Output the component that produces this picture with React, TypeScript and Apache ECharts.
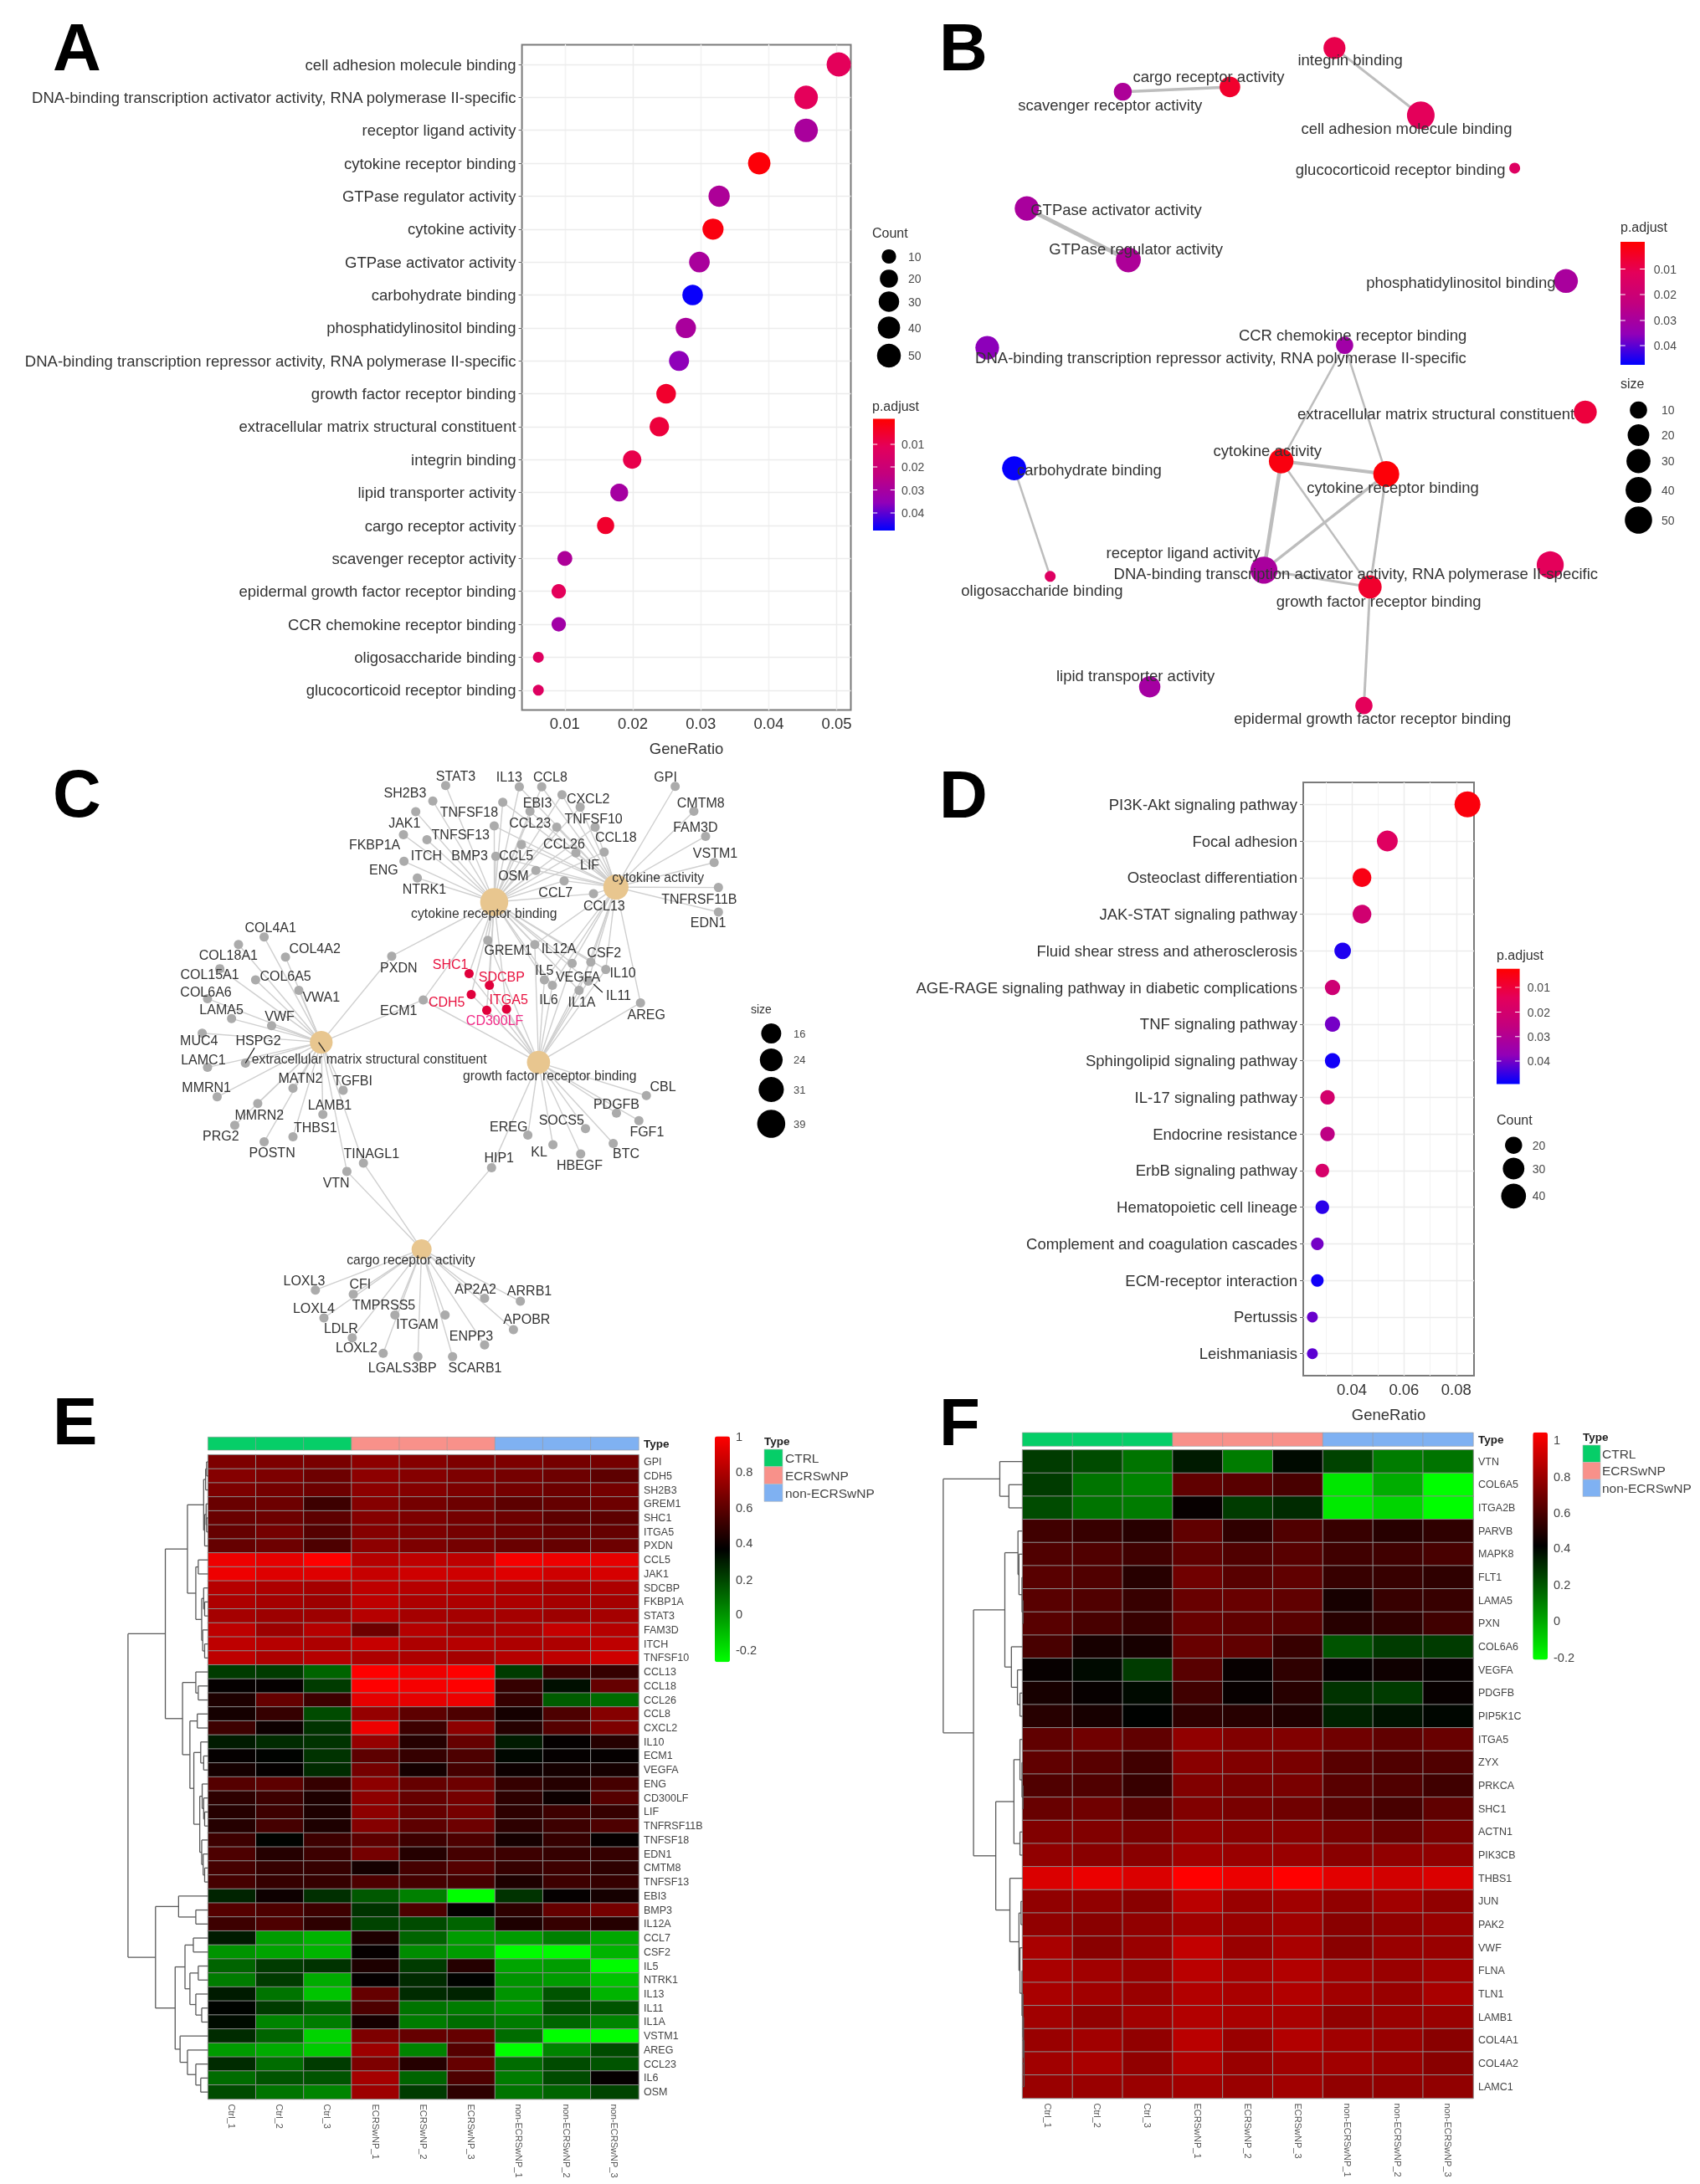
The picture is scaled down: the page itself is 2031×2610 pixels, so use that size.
import React, { useEffect, useRef } from "react";
import * as echarts from "echarts";

const FONT = "Liberation Sans";
const TXT = "#333333";

// ---------- Panel A ----------
const aTerms = ["cell adhesion molecule binding","DNA-binding transcription activator activity, RNA polymerase II-specific","receptor ligand activity","cytokine receptor binding","GTPase regulator activity","cytokine activity","GTPase activator activity","carbohydrate binding","phosphatidylinositol binding","DNA-binding transcription repressor activity, RNA polymerase II-specific","growth factor receptor binding","extracellular matrix structural constituent","integrin binding","lipid transporter activity","cargo receptor activity","scavenger receptor activity","epidermal growth factor receptor binding","CCR chemokine receptor binding","oligosaccharide binding","glucocorticoid receptor binding"];
const aRatio = [.0503,.0455,.0455,.0386,.0327,.0318,.0298,.0288,.0278,.0268,.0249,.0239,.0199,.018,.016,.01,.0091,.0091,.0061,.0061];
const aCount = [53,48,48,41,34,33,31,30,29,28,26,25,21,19,17,11,10,10,6,6];
const aP = [.012,.012,.03,.001,.029,.002,.03,.047,.03,.036,.006,.008,.01,.031,.006,.029,.012,.032,.014,.014];

// ---------- Panel B ----------
const bNames = ["cell adhesion molecule binding","integrin binding","cargo receptor activity","scavenger receptor activity","glucocorticoid receptor binding","GTPase activator activity","GTPase regulator activity","phosphatidylinositol binding","CCR chemokine receptor binding","DNA-binding transcription repressor activity, RNA polymerase II-specific","extracellular matrix structural constituent","cytokine activity","cytokine receptor binding","carbohydrate binding","receptor ligand activity","DNA-binding transcription activator activity, RNA polymerase II-specific","growth factor receptor binding","oligosaccharide binding","lipid transporter activity","epidermal growth factor receptor binding"];
const bNodeX = [1018,848,642,431,1203,242,442,1304,868,164,1342,743,950,217,709,1273,918,288,484,906];
const bNodeY = [240,100,181,191,350,434,541,585,719,724,858,960,987,975,1187,1176,1222,1200,1430,1469];
const bLabelX = [990,879,600,406,978,418,457,1097,884,624,1048,716,963,365,550,890,935,272,456,923];
const bLabelY = [268,125,159,219,352,436,518,588,698,745,862,939,1014,978,1150,1195,1252,1230,1406,1495];
const bCount = [53,21,17,11,6,31,34,29,10,28,25,33,41,30,48,48,26,6,19,10];
const bP = [.012,.01,.006,.029,.014,.03,.029,.03,.032,.036,.008,.002,.001,.047,.03,.012,.006,.014,.031,.012];
const bEdges = [[3,2,3.5],[1,0,3],[5,6,5],[8,11,2.5],[8,12,2.5],[11,12,4],[11,14,4.5],[12,14,3.5],[11,16,2.5],[12,16,3],[14,16,3],[16,19,3],[13,17,2.5]];

// ---------- Panel C ----------
const cHubs = ["cytokine receptor binding","cytokine activity","extracellular matrix structural constituent","growth factor receptor binding","cargo receptor activity"];
const cHubX = [769,997,445,852,633];
const cHubY = [378,342,715,763,1212];
const cHubLabelX = [750,1076,535,873,613];
const cHubLabelY = [405,318,755,795,1238];
const cHubCount = [39,31,24,25,16];
// name, node x, node y, label x, label y, linked hubs
const cGenes: [string, number, number, number, number, number[]][] = [
  ["STAT3",678,98,697,75,[0]],["IL13",816,101,797,78,[0,1]],["CCL8",858,101,874,77,[0,1]],["SH2B3",654,135,602,116,[0]],
  ["TNFSF18",785,138,722,162,[0,1]],["JAK1",622,161,601,187,[0]],["FKBP1A",599,216,545,241,[0]],["TNFSF13",769,195,706,217,[0,1]],
  ["ITCH",643,228,642,267,[0]],["ENG",600,280,562,300,[0]],["NTRK1",625,320,638,346,[0]],["BMP3",772,268,723,267,[0,1]],
  ["CCL5",820,240,810,266,[0,1]],["OSM",847,302,805,315,[0,1]],["EBI3",836,160,850,140,[0,1]],["CXCL2",896,120,945,129,[0,1]],
  ["CCL23",886,198,836,187,[0,1]],["TNFSF10",930,150,955,178,[0,1]],["CCL26",922,260,900,238,[0,1]],["CCL18",958,198,997,223,[0,1]],
  ["LIF",975,258,948,288,[0,1]],["CCL7",900,327,884,355,[0,1]],["CCL13",955,358,975,386,[0,1]],
  ["GPI",1108,100,1090,77,[1]],["CMTM8",1143,160,1156,140,[1]],["FAM3D",1165,220,1146,199,[1]],["VSTM1",1181,283,1183,260,[1]],["TNFRSF11B",1189,343,1153,370,[1]],["EDN1",1189,402,1170,428,[1]],
  ["GREM1",757,470,795,494,[0,3]],["IL12A",845,480,890,490,[0,1,3]],["CSF2",950,522,975,500,[0,1,3]],["IL5",863,565,863,542,[0,1,3]],["VEGFA",915,525,926,557,[0,1,3]],["IL10",978,540,1010,547,[0,1,3]],["IL6",878,578,871,613,[0,1,3]],["IL1A",928,590,933,618,[0,1,3]],["IL11",945,568,1002,602,[0,1,3]],["AREG",1043,620,1054,648,[1,3]],
  ["PXDN",577,508,590,535,[0,2]],["ECM1",636,613,590,638,[0,2,3]],
  ["COL4A1",338,462,350,440,[2]],["COL18A1",290,480,271,505,[2]],["COL4A2",378,510,433,489,[2]],["COL15A1",255,538,236,552,[2]],["COL6A5",322,565,378,556,[2]],["COL6A6",232,610,229,594,[2]],["VWA1",403,590,445,606,[2]],["LAMA5",277,658,258,636,[2]],["VWF",352,675,367,652,[2]],["MUC4",222,693,216,711,[2]],["HSPG2",303,765,327,711,[2]],["LAMC1",232,775,224,757,[2]],["MMRN1",250,846,230,823,[2]],["MATN2",392,825,406,801,[2]],["TGFBI",486,830,504,808,[2]],["MMRN2",326,862,329,890,[2]],["LAMB1",448,888,461,866,[2]],["PRG2",283,914,257,940,[2]],["THBS1",392,942,434,920,[2]],["POSTN",338,954,353,980,[2]],
  ["TINAGL1",524,1005,539,982,[2,4]],["VTN",493,1025,473,1052,[2,4]],["HIP1",764,1016,778,992,[3,4]],
  ["CBL",1054,843,1085,822,[3]],["PDGFB",998,885,998,863,[3]],["FGF1",1040,903,1055,930,[3]],["SOCS5",940,922,895,902,[3]],["EREG",832,938,796,917,[3]],["KL",879,961,853,977,[3]],["HBEGF",931,983,929,1010,[3]],["BTC",992,958,1016,982,[3]],
  ["LOXL3",434,1310,413,1287,[4]],["CFI",505,1320,518,1296,[4]],["LOXL4",450,1377,431,1354,[4]],["TMPRSS5",583,1370,562,1345,[4]],["LDLR",503,1425,482,1402,[4]],["ITGAM",677,1370,625,1392,[4]],["LOXL2",561,1462,511,1448,[4]],["LGALS3BP",626,1470,597,1497,[4]],["SCARB1",691,1470,733,1497,[4]],["ENPP3",751,1442,726,1420,[4]],["AP2A2",751,1330,734,1308,[4]],["ARRB1",818,1337,835,1312,[4]],["APOBR",805,1405,830,1381,[4]],
];
const cRedGenes: [string, number, number, number, number, number[]][] = [
  ["SHC1",722,550,687,527,[0,3]],["SDCBP",760,578,783,558,[0,3]],["CDH5",726,600,680,618,[0,3]],["ITGA5",792,635,796,613,[0,3]],["CD300LF",755,638,770,662,[0,3]],
];
const cRepelSegs = [[320,728,303,765],[440,715,452,737],[955,575,972,595]];
const cSizeLegend = [16,24,31,39];

// ---------- Panel D ----------
const dTerms = ["PI3K-Akt signaling pathway","Focal adhesion","Osteoclast differentiation","JAK-STAT signaling pathway","Fluid shear stress and atherosclerosis","AGE-RAGE signaling pathway in diabetic complications","TNF signaling pathway","Sphingolipid signaling pathway","IL-17 signaling pathway","Endocrine resistance","ErbB signaling pathway","Hematopoietic cell lineage","Complement and coagulation cascades","ECM-receptor interaction","Pertussis","Leishmaniasis"];
const dRatio = [.0843,.0536,.0439,.0439,.0365,.0326,.0326,.0326,.0307,.0307,.0287,.0287,.0268,.0268,.0249,.0249];
const dCount = [44,28,23,23,19,17,17,17,16,16,15,15,14,14,13,13];
const dP = [.004,.016,.005,.021,.047,.022,.04,.048,.02,.027,.019,.046,.04,.048,.041,.042];

// ---------- Heatmaps ----------
const samples = ["Ctrl_1","Ctrl_2","Ctrl_3","ECRSwNP_1","ECRSwNP_2","ECRSwNP_3","non-ECRSwNP_1","non-ECRSwNP_2","non-ECRSwNP_3"];
const groups = ["CTRL","ECRSwNP","non-ECRSwNP"];
const groupOfSample = [0,0,0,1,1,1,2,2,2];
const groupColors = ["#06CE68","#F8918A","#7FB1F2"];
const heatTicks = ["1","0.8","0.6","0.4","0.2","0","-0.2"];

const eGenes = ["GPI","CDH5","SH2B3","GREM1","SHC1","ITGA5","PXDN","CCL5","JAK1","SDCBP","FKBP1A","STAT3","FAM3D","ITCH","TNFSF10","CCL13","CCL18","CCL26","CCL8","CXCL2","IL10","ECM1","VEGFA","ENG","CD300LF","LIF","TNFRSF11B","TNFSF18","EDN1","CMTM8","TNFSF13","EBI3","BMP3","IL12A","CCL7","CSF2","IL5","NTRK1","IL13","IL11","IL1A","VSTM1","AREG","CCL23","IL6","OSM"];
const eValues = [
[.68,.68,.67,.72,.70,.68,.68,.66,.66],[.70,.68,.64,.72,.70,.68,.66,.64,.60],[.68,.66,.64,.72,.70,.68,.66,.64,.66],[.63,.64,.52,.70,.66,.64,.60,.62,.64],[.63,.64,.60,.70,.68,.66,.64,.60,.60],[.62,.66,.58,.70,.68,.66,.64,.62,.62],[.62,.64,.56,.72,.68,.66,.63,.62,.64],
[.96,.94,1,.82,.84,.84,.98,.96,.94],[.96,.92,.92,.86,.88,.88,.92,.88,.90],[.82,.80,.78,.84,.82,.82,.80,.78,.80],[.80,.78,.76,.84,.80,.80,.80,.78,.78],[.78,.76,.76,.82,.78,.78,.78,.76,.78],[.84,.76,.82,.64,.82,.78,.80,.86,.82],[.84,.82,.80,.86,.80,.82,.80,.80,.84],[.84,.80,.82,.80,.80,.78,.82,.84,.88],
[.22,.22,.12,1,.96,1,.22,.52,.50],[.38,.38,.22,1,.98,1,.50,.33,.62],[.44,.62,.52,.94,.94,.96,.50,.14,.10],[.42,.50,.18,.74,.60,.56,.42,.56,.70],[.52,.40,.24,.96,.52,.72,.46,.58,.68],[.30,.26,.24,.74,.46,.62,.30,.38,.46],[.38,.36,.24,.60,.50,.56,.35,.38,.38],[.42,.38,.26,.66,.42,.54,.40,.42,.42],[.58,.60,.50,.72,.62,.64,.50,.46,.54],[.48,.52,.44,.72,.62,.66,.48,.40,.58],[.46,.52,.44,.72,.62,.66,.48,.52,.50],[.46,.54,.44,.70,.60,.64,.48,.52,.56],[.52,.36,.52,.60,.52,.56,.42,.50,.38],[.56,.46,.52,.66,.46,.54,.52,.50,.50],[.54,.50,.50,.42,.54,.58,.50,.52,.48],[.54,.50,.50,.56,.54,.54,.44,.52,.50],
[.28,.40,.25,.15,.05,-.27,.24,.38,.42],[.58,.56,.52,.24,.56,.38,.48,.62,.66],[.52,.56,.48,.20,.18,.12,.44,.50,.46],[.30,-.02,-.08,.44,.12,-.02,-.02,.05,-.05],[0,-.04,-.08,.38,.02,-.02,-.26,-.26,-.08],[.12,.22,.24,.44,.22,.46,-.04,-.02,-.26],[.06,.22,-.06,.38,.26,.36,0,-.02,-.12],[.30,.08,-.12,.62,.26,.28,0,.16,-.08],[.36,.22,.14,.56,.08,.06,0,.18,.16],[.34,.04,.06,.42,.06,.10,.06,.12,.04],[.26,.12,-.16,.68,.62,.62,.10,-.27,-.27],[-.02,-.06,-.14,.76,.04,.58,-.27,.04,.18],[.26,.10,.22,.68,.46,.62,.10,.18,.16],[.10,.16,.16,.78,.12,.56,.06,.18,.38],[.18,.08,.04,.76,.22,.48,.08,.12,.20],
];
const fGenes = ["VTN","COL6A5","ITGA2B","PARVB","MAPK8","FLT1","LAMA5","PXN","COL6A6","VEGFA","PDGFB","PIP5K1C","ITGA5","ZYX","PRKCA","SHC1","ACTN1","PIK3CB","THBS1","JUN","PAK2","VWF","FLNA","TLN1","LAMB1","COL4A1","COL4A2","LAMC1"];
const fValues = [
[.27,.23,.13,.35,.11,.39,.25,.11,.13],[.27,.13,.09,.65,.63,.59,-.15,-.01,-.21],[.23,.13,.11,.43,.27,.31,-.16,-.11,-.21],[.57,.55,.51,.65,.53,.61,.55,.51,.53],[.61,.61,.57,.65,.61,.63,.57,.57,.59],[.63,.61,.51,.69,.63,.65,.55,.55,.53],[.63,.61,.55,.67,.67,.65,.47,.55,.55],[.63,.59,.55,.67,.65,.63,.51,.53,.57],[.59,.47,.47,.67,.65,.55,.21,.27,.27],[.43,.39,.27,.63,.43,.53,.43,.45,.43],[.47,.43,.39,.57,.43,.51,.29,.27,.43],[.51,.47,.41,.53,.51,.49,.33,.37,.40],
[.65,.69,.65,.77,.73,.73,.69,.65,.67],[.65,.63,.57,.75,.73,.71,.63,.61,.61],[.61,.61,.55,.73,.71,.71,.63,.61,.57],[.67,.69,.63,.73,.71,.69,.63,.59,.65],[.73,.73,.71,.77,.75,.75,.71,.67,.71],[.77,.75,.75,.81,.79,.79,.75,.77,.77],[.95,.99,.95,1.04,.99,1.04,.97,.93,.95],[.77,.77,.75,.87,.79,.81,.77,.81,.77],[.77,.75,.77,.81,.79,.81,.75,.77,.79],[.83,.75,.79,.89,.79,.83,.75,.79,.79],[.83,.81,.79,.87,.83,.85,.81,.79,.81],[.83,.81,.79,.85,.83,.85,.81,.79,.83],[.81,.77,.81,.85,.83,.83,.77,.79,.79],[.79,.81,.77,.87,.79,.85,.81,.79,.75],[.81,.83,.77,.85,.79,.81,.81,.79,.75],[.79,.79,.79,.81,.79,.81,.77,.77,.77],
];
type Tree = number | [number, Tree, Tree];
const eTree: Tree = [22,
  [98,
    [143,
      [176,[180,[182,0,1],2],[178,[181,3,[182,4,5]],6]],
      [160,[165,7,8],[172,[176,9,[178,10,11]],[174,12,[178,13,14]]]]],
    [133,
      [160,15,[165,16,17]],
      [148,[163,18,19],[156,[170,20,[176,21,22]],[168,[173,23,[176,24,[178,25,26]]],[172,27,[175,28,[178,29,30]]]]]]]],
  [78,
    [125,31,[160,32,33]],
    [118,
      [138,[155,34,35],[148,[165,36,37],[160,38,[172,39,40]]]],
      [128,41,[143,42,[160,43,[170,44,45]]]]]]];
const fTree: Tree = [28,
  [140,0,[158,1,2]],
  [88,
    [150,[176,3,[178,4,[184,5,[186,6,7]]]],[163,8,[175,9,[180,10,11]]]],
    [132,
      [168,[180,12,[184,13,[186,14,15]]],[180,16,17]],
      [160,18,[178,[182,19,20],[180,21,[184,22,[186,23,[187,24,[188,25,[188,26,27]]]]]]]]]]];

// ---------- helpers ----------
const stops = [[255,0,0],[228,0,90],[194,0,127],[146,0,184],[0,0,255]];
const rgb = (c: number[]) => `rgb(${c.map(Math.round).join(",")})`;
function pColor(p: number, pMin: number, pMax: number) {
  const t = Math.max(0, Math.min(1, (p - pMin) / (pMax - pMin))) * (stops.length - 1);
  const i = Math.min(stops.length - 2, Math.floor(t));
  const f = t - i;
  return rgb(stops[i].map((v, k) => v + (stops[i + 1][k] - v) * f));
}
function dia(c: number, cMin: number, cMax: number, dMin: number, dMax: number, pow = 0.7) {
  const t = Math.max(0, Math.min(1, (Math.sqrt(c) - Math.sqrt(cMin)) / (Math.sqrt(cMax) - Math.sqrt(cMin))));
  return dMin + (dMax - dMin) * Math.pow(t, pow);
}
function flatten(node: Tree, leafX: number, out: number[][]): { x: number; y: number } {
  if (typeof node === "number") return { x: leafX, y: node };
  const a = flatten(node[1], leafX, out);
  const b = flatten(node[2], leafX, out);
  const h = node[0];
  out.push([h, a.y, h, b.y], [h, a.y, a.x, a.y], [h, b.y, b.x, b.y]);
  return { x: h, y: (a.y + b.y) / 2 };
}

function buildOption() {
  const grid: any[] = [], xAxis: any[] = [], yAxis: any[] = [], series: any[] = [], g: any[] = [], visualMap: any[] = [];

  const text = (t: string, x: number, y: number, size: number, o: any = {}) => g.push({
    type: "text", z: 50, silent: true,
    style: { text: t, x, y, font: `${o.bold ? "bold " : ""}${size}px "${FONT}"`, fill: o.fill || TXT,
      align: o.align || "left", textAlign: o.align || "left", verticalAlign: "middle", textVerticalAlign: "middle" },
  });
  const dot = (x: number, y: number, d: number) => g.push({ type: "circle", z: 50, silent: true, shape: { cx: x, cy: y, r: d / 2 }, style: { fill: "#000" } });

  const pBar = (x: number, y0: number, y1: number, w: number, tickY: number[], lx: number) => {
    g.push({ type: "rect", z: 50, silent: true, shape: { x, y: y0, width: w, height: y1 - y0 },
      style: { fill: new echarts.graphic.LinearGradient(0, 0, 0, 1, stops.map((c, i) => ({ offset: i / (stops.length - 1), color: rgb(c) }))) } });
    ["0.01","0.02","0.03","0.04"].forEach((s, i) => {
      g.push({ type: "line", z: 51, silent: true, shape: { x1: x, x2: x + w / 5, y1: tickY[i], y2: tickY[i] }, style: { stroke: "#fff", lineWidth: 1 } });
      g.push({ type: "line", z: 51, silent: true, shape: { x1: x + w * 0.8, x2: x + w, y1: tickY[i], y2: tickY[i] }, style: { stroke: "#fff", lineWidth: 1 } });
      text(s, lx, tickY[i], 14, { fill: "#4a4a4a" });
    });
  };

  const dotPanel = (left: number, top: number, w: number, h: number, xMin: number, xMax: number, xTicks: number[], xMinor: number[], terms: string[], ratio: number[], counts: number[], ps: number[], cMin: number, cMax: number, dMin: number, dMax: number, pMin: number, pMax: number) => {
    const i = grid.length;
    grid.push({ left, top, width: w, height: h, show: true, borderColor: "#7a7a7a", borderWidth: 2, backgroundColor: "#fff" });
    const rows = terms.map((_, k) => k);
    xAxis.push({
      type: "value", gridIndex: i, min: xMin, max: xMax, name: "GeneRatio", nameLocation: "middle", nameGap: 37,
      nameTextStyle: { fontFamily: FONT, fontSize: 18.5, color: TXT },
      axisLine: { show: false }, axisTick: { show: true, length: 4, lineStyle: { color: "#666" }, customValues: xTicks },
      axisLabel: { customValues: xTicks, margin: 7, fontFamily: FONT, fontSize: 18.5, color: TXT, formatter: (v: number) => v.toFixed(2), showMinLabel: true, showMaxLabel: true },
      splitLine: { show: false },
    });
    yAxis.push({
      type: "value", gridIndex: i, inverse: true, min: -0.6, max: terms.length - 0.4,
      axisLine: { show: false }, axisTick: { show: true, length: 4, lineStyle: { color: "#666" }, customValues: rows },
      axisLabel: { customValues: rows, margin: 7, fontFamily: FONT, fontSize: 18.5, color: TXT, formatter: (v: number) => terms[v] ?? "" },
      splitLine: { show: false },
    });
    series.push({
      type: "scatter", xAxisIndex: i, yAxisIndex: i, clip: true, z: 5, silent: true,
      data: terms.map((_, k) => ({ value: [ratio[k], k, counts[k]], itemStyle: { color: pColor(ps[k], pMin, pMax), opacity: 1 } })),
      symbolSize: (v: number[]) => dia(v[2], cMin, cMax, dMin, dMax),
      markLine: {
        silent: true, symbol: "none", animation: false, label: { show: false }, z: 1,
        data: [
          ...xTicks.map((v) => ({ xAxis: v, lineStyle: { color: "#ececec", width: 1.4, type: "solid" } })),
          ...xMinor.map((v) => ({ xAxis: v, lineStyle: { color: "#f3f3f3", width: 1, type: "solid" } })),
          ...rows.map((v) => ({ yAxis: v, lineStyle: { color: "#ececec", width: 1.4, type: "solid" } })),
        ],
      },
    });
  };

  const hiddenPanel = (left: number, top: number, w: number, h: number, xr: number[], yr: number[]) => {
    const i = grid.length;
    grid.push({ left, top, width: w, height: h, show: false });
    xAxis.push({ type: "value", gridIndex: i, show: false, min: xr[0], max: xr[1], splitLine: { show: false } });
    yAxis.push({ type: "value", gridIndex: i, show: false, inverse: true, min: yr[0], max: yr[1], splitLine: { show: false } });
    return i;
  };

  const labelSeries = (i: number, names: string[], xs: number[], ys: number[], size: number, colors?: string[]) => series.push({
    type: "scatter", xAxisIndex: i, yAxisIndex: i, clip: false, z: 20, silent: true, symbolSize: 1, itemStyle: { color: "rgba(0,0,0,0)", opacity: 1 },
    data: names.map((n, k) => ({ value: [xs[k], ys[k]], name: n, label: { color: colors ? colors[k] : TXT, textBorderWidth: 0, textBorderColor: "transparent" } })),
    label: { show: true, position: "inside", formatter: (p: any) => p.name, fontFamily: FONT, fontSize: size, color: TXT, align: "center", verticalAlign: "middle", textBorderWidth: 0, textBorderColor: "transparent" },
    labelLayout: { hideOverlap: false },
  });

  // ---- A
  dotPanel(623.6, 53.4, 392.9, 795, 0.00369, 0.05208, [.01,.02,.03,.04,.05], [.005,.015,.025,.035,.045], aTerms, aRatio, aCount, aP, 6, 53, 13, 29, 0, .0477);
  text("Count", 1042, 278, 16, {});
  [10,20,30,40,50].forEach((c, k) => {
    const y = [306.5,333,360.5,391.5,425][k];
    dot(1062, y, dia(c, 6, 53, 13, 29));
    text(String(c), 1085, y, 14, { fill: "#4a4a4a" });
  });
  text("p.adjust", 1042, 485, 16, {});
  pBar(1043, 500.6, 634, 26, [531,558,585.5,613], 1077);

  // ---- B
  const iB = hiddenPanel(1080, 0, 951, 900, [0,1568], [0,1568]);
  series.push({
    type: "graph", coordinateSystem: "cartesian2d", xAxisIndex: iB, yAxisIndex: iB, layout: "none", z: 10, silent: true,
    data: bNames.map((n, k) => ({ name: n, value: [bNodeX[k], bNodeY[k]], symbolSize: dia(bCount[k], 6, 53, 13, 33, 0.5), itemStyle: { color: pColor(bP[k], 0, .0475) } })),
    edges: bEdges.map(([s, t, w]) => ({ source: s, target: t, lineStyle: { width: w, color: "#bdbdbd", opacity: 1, curveness: 0 } })),
    label: { show: false },
  });
  labelSeries(iB, bNames, bLabelX, bLabelY, 18.5);
  text("p.adjust", 1936, 271, 16, {});
  pBar(1936, 289, 436, 29, [321.5,352,383,413], 1975.7);
  text("size", 1936, 458, 16, {});
  [10,20,30,40,50].forEach((c, k) => {
    const y = [490,520,551,585.5,621.5][k];
    dot(1957.5, y, dia(c, 6, 53, 13, 33, 0.5));
    text(String(c), 1985, y, 14, { fill: "#4a4a4a" });
  });

  // ---- C
  const iC = hiddenPanel(100, 890, 1000, 780, [0,1568], [0,1568]);
  const all = [...cGenes, ...cRedGenes];
  const hubD = (c: number) => 24 + (c - 16) / 23 * 9.5;
  const cNodes: any[] = [
    ...cHubs.map((n, k) => ({ name: n, value: [cHubX[k], cHubY[k]], symbolSize: hubD(cHubCount[k]), itemStyle: { color: "#E8C68F" } })),
    ...cGenes.map((r) => ({ name: r[0], value: [r[1], r[2]], symbolSize: 11, itemStyle: { color: "#ababab" } })),
    ...cRedGenes.map((r) => ({ name: r[0], value: [r[1], r[2]], symbolSize: 11, itemStyle: { color: "#E0003C" } })),
  ];
  const cLinks: any[] = [];
  all.forEach((r, k) => r[5].forEach((h) => cLinks.push({ source: k + cHubs.length, target: h, lineStyle: { width: 1.4, color: "#cfcfcf", opacity: 1 } })));
  series.push({ type: "graph", coordinateSystem: "cartesian2d", xAxisIndex: iC, yAxisIndex: iC, layout: "none", z: 10, silent: true, data: cNodes, edges: cLinks, label: { show: false } });
  series.push({
    type: "custom", xAxisIndex: iC, yAxisIndex: iC, z: 15, silent: true, data: cRepelSegs, encode: { x: [0, 2], y: [1, 3] },
    renderItem: (_p: any, api: any) => {
      const a = api.coord([api.value(0), api.value(1)]), b = api.coord([api.value(2), api.value(3)]);
      return { type: "line", shape: { x1: a[0], y1: a[1], x2: b[0], y2: b[1] }, style: { stroke: "#222", lineWidth: 1.2 } };
    },
  });
  labelSeries(iC, all.map((r) => r[0]), all.map((r) => r[3]), all.map((r) => r[4]), 16,
    all.map((r) => (cRedGenes.includes(r as any) ? (r[0] === "CD300LF" ? "#F02A86" : "#E8123F") : TXT)));
  labelSeries(iC, cHubs, cHubLabelX, cHubLabelY, 15.7);
  text("size", 897, 1206, 14, {});
  cSizeLegend.forEach((c, k) => {
    const y = [1235,1266.6,1302,1343][k];
    dot(921.4, y, hubD(c));
    text(String(c), 948, y, 13, { fill: "#4a4a4a" });
  });

  // ---- D
  dotPanel(1557, 935, 204, 709, 0.0214, 0.0868, [.04,.06,.08], [.03,.05,.07], dTerms, dRatio, dCount, dP, 13, 44, 13, 31, .0024, .0494);
  text("p.adjust", 1788, 1141, 16, {});
  pBar(1788, 1157.7, 1295.5, 27.6, [1180,1209.5,1238.8,1268], 1824.7);
  text("Count", 1788, 1338, 16, {});
  [20,30,40].forEach((c, k) => {
    const y = [1368.7,1396.5,1429.4][k];
    dot(1808.3, y, dia(c, 13, 44, 13, 31));
    text(String(c), 1830.7, y, 14, { fill: "#4a4a4a" });
  });

  // ---- Heatmaps
  const heat = (hx0: number, hx1: number, hy0: number, hy1: number, ay0: number, ay1: number, genes: string[], values: number[][], tree: Tree, leafOrigin: number, vMin: number, vMax: number, barX: number, barY0: number, barY1: number, barW: number, tickLX: number, tickY: number[], legX: number, legTitleY: number, legY0: number, legH: number, legW: number, legTX: number) => {
    const i = grid.length;
    grid.push({ left: hx0, top: hy0, width: hx1 - hx0, height: hy1 - hy0, show: false });
    xAxis.push({ type: "category", gridIndex: i, data: samples, axisLine: { show: false }, axisTick: { show: false }, splitLine: { show: false },
      axisLabel: { interval: 0, rotate: -90, margin: 6, fontFamily: FONT, fontSize: 11, color: "#555" } });
    yAxis.push({ type: "category", gridIndex: i, data: genes, inverse: true, position: "right", axisLine: { show: false }, axisTick: { show: false }, splitLine: { show: false },
      axisLabel: { interval: 0, margin: 6, fontFamily: FONT, fontSize: 12.5, color: "#444" } });
    const data: number[][] = [];
    values.forEach((row, r) => row.forEach((v, c) => data.push([c, r, v])));
    const si = series.length;
    series.push({ type: "heatmap", xAxisIndex: i, yAxisIndex: i, data, silent: true, progressive: 0, z: 5, itemStyle: { borderColor: "#8c8c8c", borderWidth: 1 } });
    visualMap.push({ type: "continuous", seriesIndex: si, dimension: 2, min: vMin, max: vMax, left: barX, top: barY0, itemWidth: barW, itemHeight: barY1 - barY0, padding: 0, calculable: false, hoverLink: false, realtime: false, showLabel: false,
      inRange: { color: ["#00ff00", "#000000", "#ff0000"] } });
    heatTicks.forEach((t, k) => text(t, tickLX, tickY[k], 14.6, { fill: "#444" }));

    // annotation strip
    const j = grid.length;
    grid.push({ left: hx0, top: ay0, width: hx1 - hx0, height: ay1 - ay0, show: false });
    xAxis.push({ type: "category", gridIndex: j, data: samples, show: false });
    yAxis.push({ type: "category", gridIndex: j, data: ["Type"], position: "right", axisLine: { show: false }, axisTick: { show: false }, splitLine: { show: false },
      axisLabel: { margin: 6, fontFamily: FONT, fontSize: 13.5, fontWeight: "bold", color: "#222" } });
    const sj = series.length;
    series.push({ type: "heatmap", xAxisIndex: j, yAxisIndex: j, silent: true, progressive: 0, z: 5, itemStyle: { borderColor: "#9a9a9a", borderWidth: 0.6 },
      data: samples.map((_, c) => [c, 0, groupOfSample[c]]) });
    visualMap.push({ type: "piecewise", show: false, seriesIndex: sj, dimension: 2, pieces: groupColors.map((color, v) => ({ value: v, color })) });

    // dendrogram
    const segs: number[][] = [];
    flatten(tree, 185, segs);
    const k = hiddenPanel(leafOrigin, hy0, hx0 - leafOrigin, hy1 - hy0, [0,185], [-0.5, genes.length - 0.5]);
    series.push({
      type: "custom", xAxisIndex: k, yAxisIndex: k, silent: true, z: 5, data: segs, clip: false, encode: { x: [0, 2], y: [1, 3] },
      renderItem: (_p: any, api: any) => {
        const a = api.coord([api.value(0), api.value(1)]), b = api.coord([api.value(2), api.value(3)]);
        return { type: "line", shape: { x1: a[0], y1: a[1], x2: b[0], y2: b[1] }, style: { stroke: "#5a5a5a", lineWidth: 1.3 } };
      },
    });

    // type legend
    text("Type", legX, legTitleY, 13.5, { bold: true, fill: "#222" });
    groups.forEach((n, q) => {
      g.push({ type: "rect", z: 50, silent: true, shape: { x: legX, y: legY0 + q * legH, width: legW, height: legH }, style: { fill: groupColors[q], stroke: "#bbb", lineWidth: 0.6 } });
      text(n, legTX, legY0 + (q + 0.5) * legH, 15.5, { fill: "#444" });
    });
  };
  heat(248.6, 763, 1738.7, 2508.5, 1717.6, 1732.8, eGenes, eValues, eTree, 140, -0.267, 1.003, 854, 1716.4, 1986.3, 18, 879, [1717,1759.2,1801.5,1844.3,1887.7,1929.4,1972], 913, 1722, 1732, 20.8, 22, 938);
  heat(1221.6, 1760, 1732.8, 2507.5, 1712.3, 1728.1, fGenes, fValues, fTree, 1110, -0.212, 1.04, 1831.3, 1711.7, 1983.4, 17.7, 1856, [1720.5,1764.5,1807.5,1850,1894,1937,1980.7], 1891, 1717, 1727, 20.5, 21, 1914);

  // panel letters
  const letters: [string, number, number][] = [["A",63,56],["B",1122,56],["C",63,948],["D",1122,949],["E",63,1698],["F",1122,1699]];
  letters.forEach(([t, x, y]) => text(t, x, y, 80, { bold: true, fill: "#000" }));

  return { animation: false, backgroundColor: "#fff", grid, xAxis, yAxis, series, visualMap, graphic: { elements: g } };
}

export default function App() {
  const ref = useRef<HTMLDivElement>(null);
  useEffect(() => {
    const chart = echarts.init(ref.current!, undefined, { renderer: "svg" });
    chart.setOption(buildOption() as any);
    return () => chart.dispose();
  }, []);
  return <div ref={ref} style={{ position: "absolute", left: 0, top: 0, width: 2031, height: 2610, filter: "blur(0.6px)" }} />;
}
